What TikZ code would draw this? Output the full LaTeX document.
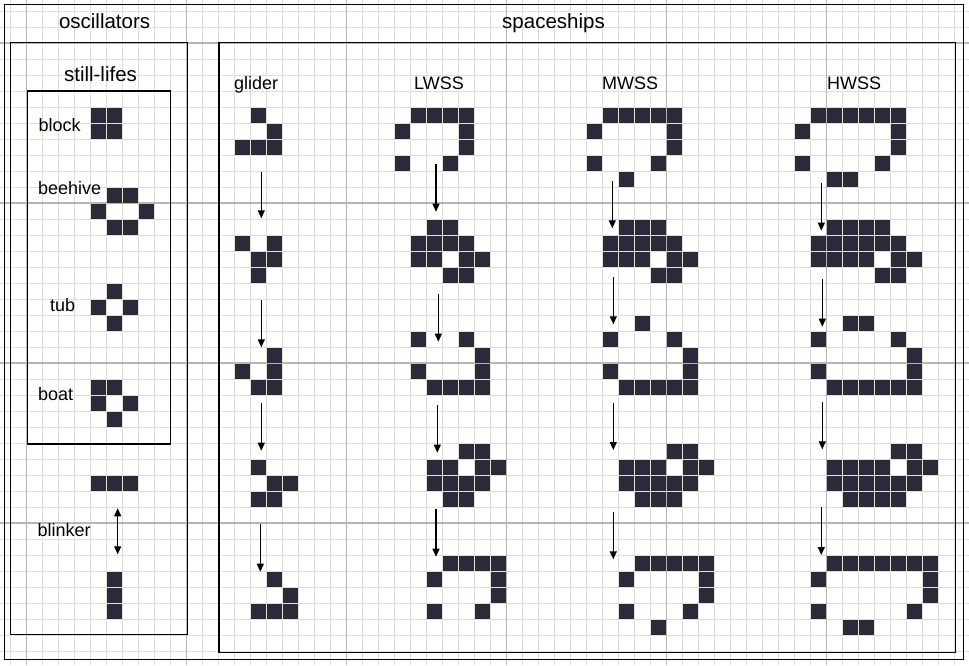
\documentclass[tikz,border=0pt]{standalone}
\usepackage{fontspec}
\setmainfont{Liberation Sans}
\usepackage{tikz}
\usetikzlibrary{
  arrows.meta,
  positioning,
  calc
}
\definecolor{cel}{RGB}{42,42,56}
\definecolor{gradeazul}{RGB}{218,218,246}
\definecolor{gradeamarela}{RGB}{228,228,186}
\definecolor{gradecinza}{RGB}{182,182,182}

\begin{document}
\begin{tikzpicture}[
      x=1pt, y=-1pt,
      titulo/.style={font=\fontsize{20.5}{24}\selectfont, anchor=base, inner sep=0pt},
      rotulo/.style={font=\fontsize{18}{21}\selectfont, anchor=base west, inner sep=0pt},
      quadro/.style={draw=black, line width=1.2pt},
      celula/.style={fill=cel},
      grade/.style={draw=gradeazul, line width=0.8pt},
      gradeb/.style={draw=gradeamarela, line width=0.8pt, dash pattern=on 2pt off 2pt},
      gradec/.style={draw=gradecinza, line width=1.1pt},
      seta/.style={-{Triangle[width=7pt,length=8pt]}, line width=1.1pt},
      setadupla/.style={{Triangle[width=7pt,length=8pt]}-{Triangle[width=7pt,length=8pt]}, line width=1.1pt}
  ]
      \useasboundingbox (0,0) rectangle (969,665);

      % Grade de fundo
      \foreach \k in {-1,...,60} {
        \draw[grade] ({10.5+16*\k},0) -- ({10.5+16*\k},665);
        \draw[gradeb] ({10.5+16*\k},0) -- ({10.5+16*\k},665);
      }
      \foreach \k in {-1,...,41} {
        \draw[grade] (0,{11+16*\k}) -- (969,{11+16*\k});
        \draw[gradeb] (0,{11+16*\k}) -- (969,{11+16*\k});
      }
      \foreach \k in {1,11,21,31,41,51} \draw[gradec] ({10.5+16*\k},0) -- ({10.5+16*\k},665);
      \foreach \k in {2,12,22,32} \draw[gradec] (0,{11+16*\k}) -- (969,{11+16*\k});

      % Quadros
      \draw[quadro] (4.3,4.3) rectangle (963.3,659.3);
      \draw[quadro] (10.7,42.7) rectangle (187.3,634.3);
      \draw[quadro] (27.3,91) rectangle (170.5,444);
      \draw[quadro] (219,42.7) rectangle (955.3,652.3);

      % Titulos e rotulos
      \node[titulo] (osc) at (104.6,28) {oscillators};
      \node[titulo] (naves) at (553.5,28) {spaceships};
      \node[titulo] (fixos) at (100.5,81.7) {still-lifes};
      \node[rotulo] (block) at (38.3,131.7) {block};
      \node[rotulo] (beehive) at (38,194) {beehive};
      \node[rotulo] (tub) at (50,311.7) {tub};
      \node[rotulo] (boat) at (38,400.7) {boat};
      \node[rotulo] (blinker) at (37.5,536) {blinker};
      \node[rotulo] (glider) at (234,89) {glider};
      \node[rotulo] (lwss) at (414,89) {LWSS};
      \node[rotulo] (mwss) at (602,89) {MWSS};
      \node[rotulo] (hwss) at (827,89) {HWSS};

      % Celulas vivas (coluna/linha)
      \foreach \i/\j in {5/6,6/6,5/7,6/7,
          6/11,7/11,5/12,8/12,6/13,7/13,
          6/17,5/18,7/18,6/19,
          5/23,6/23,5/24,7/24,6/25,
          5/29,6/29,7/29,6/35,6/36,6/37}
        \fill[celula] ({11+16*\i},{11.5+16*\j}) rectangle ++(15,15);
      \foreach \i/\j in {15/6,16/7,14/8,15/8,16/8,
          14/14,16/14,15/15,16/15,15/16,
          16/21,14/22,16/22,15/23,16/23,
          15/28,16/29,17/29,15/30,16/30,
          16/35,17/36,15/37,16/37,17/37}
        \fill[celula] ({11+16*\i},{11.5+16*\j}) rectangle ++(15,15);
      \foreach \i/\j in {25/6,26/6,27/6,28/6,24/7,28/7,28/8,24/9,27/9,
          26/13,27/13,25/14,26/14,27/14,28/14,25/15,26/15,28/15,29/15,27/16,28/16,
          25/20,28/20,29/21,25/22,29/22,26/23,27/23,28/23,29/23,
          28/27,29/27,26/28,27/28,29/28,30/28,26/29,27/29,28/29,29/29,27/30,28/30,
          27/34,28/34,29/34,30/34,26/35,30/35,30/36,26/37,29/37}
        \fill[celula] ({11+16*\i},{11.5+16*\j}) rectangle ++(15,15);
      \foreach \i/\j in {37/6,38/6,39/6,40/6,41/6,36/7,41/7,41/8,36/9,40/9,38/10,
          38/13,39/13,40/13,37/14,38/14,39/14,40/14,41/14,37/15,38/15,39/15,41/15,42/15,40/16,41/16,
          39/19,37/20,41/20,42/21,37/22,42/22,38/23,39/23,40/23,41/23,42/23,
          41/27,42/27,38/28,39/28,40/28,42/28,43/28,38/29,39/29,40/29,41/29,42/29,39/30,40/30,41/30,
          39/34,40/34,41/34,42/34,43/34,38/35,43/35,43/36,38/37,42/37,40/38}
        \fill[celula] ({11+16*\i},{11.5+16*\j}) rectangle ++(15,15);
      \foreach \i/\j in {50/6,51/6,52/6,53/6,54/6,55/6,49/7,55/7,55/8,49/9,54/9,51/10,52/10,
          51/13,52/13,53/13,54/13,50/14,51/14,52/14,53/14,54/14,55/14,
          50/15,51/15,52/15,53/15,55/15,56/15,54/16,55/16,
          52/19,53/19,50/20,55/20,56/21,50/22,56/22,51/23,52/23,53/23,54/23,55/23,56/23,
          55/27,56/27,51/28,52/28,53/28,54/28,56/28,57/28,51/29,52/29,53/29,54/29,55/29,56/29,
          52/30,53/30,54/30,55/30,
          51/34,52/34,53/34,54/34,55/34,56/34,57/34,50/35,57/35,57/36,50/37,56/37,52/38,53/38}
        \fill[celula] ({11+16*\i},{11.5+16*\j}) rectangle ++(15,15);

      % Pontas das setas
      \coordinate (bl1) at (117.7,508.3);
      \coordinate (bl2) at (117.7,554.3);
      \coordinate (g1a) at (261.3,171.7);  \coordinate (g1b) at (261.3,218.3);
      \coordinate (g2a) at (261.3,300);    \coordinate (g2b) at (261.3,347.3);
      \coordinate (g3a) at (261.3,403.3);  \coordinate (g3b) at (261.3,450.7);
      \coordinate (g4a) at (260.3,524);    \coordinate (g4b) at (260.3,571.7);
      \coordinate (l1a) at (436,164);      \coordinate (l1b) at (436,211.7);
      \coordinate (l2a) at (438.3,294);    \coordinate (l2b) at (438.3,341.7);
      \coordinate (l3a) at (437.3,405);    \coordinate (l3b) at (437.3,452.7);
      \coordinate (l4a) at (436,509.3);    \coordinate (l4b) at (436,556.7);
      \coordinate (m1a) at (612.3,181);    \coordinate (m1b) at (612.3,228.3);
      \coordinate (m2a) at (613.3,276.7);  \coordinate (m2b) at (613.3,324.3);
      \coordinate (m3a) at (613.3,403.3);  \coordinate (m3b) at (613.3,450);
      \coordinate (m4a) at (613.3,511.7);  \coordinate (m4b) at (613.3,559.3);
      \coordinate (h1a) at (821.3,183.3);  \coordinate (h1b) at (821.3,230.7);
      \coordinate (h2a) at (822.3,279);    \coordinate (h2b) at (822.3,326.7);
      \coordinate (h3a) at (822.3,402.3);  \coordinate (h3b) at (822.3,449.3);
      \coordinate (h4a) at (821.3,507.3);  \coordinate (h4b) at (821.3,555);

      % Geracoes
      \draw[setadupla] (bl1) -- (bl2);
      \draw[seta] (g1a) -- (g1b);
      \draw[seta] (g2a) -- (g2b);
      \draw[seta] (g3a) -- (g3b);
      \draw[seta] (g4a) -- (g4b);
      \draw[seta] (l1a) -- (l1b);
      \draw[seta] (l2a) -- (l2b);
      \draw[seta] (l3a) -- (l3b);
      \draw[seta] (l4a) -- (l4b);
      \draw[seta] (m1a) -- (m1b);
      \draw[seta] (m2a) -- (m2b);
      \draw[seta] (m3a) -- (m3b);
      \draw[seta] (m4a) -- (m4b);
      \draw[seta] (h1a) -- (h1b);
      \draw[seta] (h2a) -- (h2b);
      \draw[seta] (h3a) -- (h3b);
      \draw[seta] (h4a) -- (h4b);
  \end{tikzpicture}
\end{document}
